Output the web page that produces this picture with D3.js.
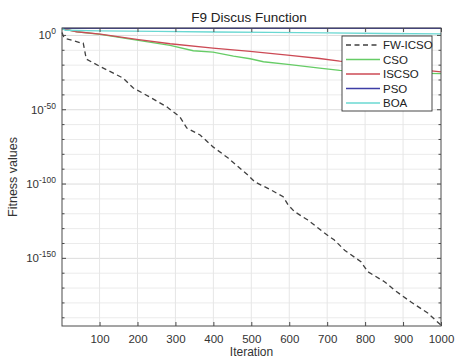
<!DOCTYPE html>
<html>
<head>
<meta charset="utf-8">
<script src="https://cdn.jsdelivr.net/npm/d3@7"></script>
<style>
  html, body { margin: 0; padding: 0; background: #fff; }
  svg { display: block; font-family: "Liberation Sans", Arial, Helvetica, sans-serif; }
</style>
</head>
<body>
<svg id="chart" width="456" height="360"></svg>
<script>
// Convergence curves for the F9 Discus benchmark (best fitness per iteration)
const seriesNames = ["FW-ICSO", "CSO", "ISCSO", "PSO", "BOA"];
const seriesColors = ["#404040", "#66cc66", "#cc4a55", "#3d3da6", "#6ad8d2"];

const fwIters = [1, 6, 12, 49, 57, 65, 102, 162, 189, 233, 278, 312, 330, 365, 399, 439, 491, 509, 526, 552, 584, 597, 614, 649, 693, 719, 746, 789, 807, 851, 877, 920, 965, 1000];
const fwValues = [1e2, 5e-2, 6e-3, 1.3e-5, 8e-6, 1.3e-16, 1e-21, 2e-29, 4e-36, 3e-42, 6e-49, 1.3e-55, 5e-63, 1e-67, 1e-75, 3e-83, 1e-94, 3e-99, 2e-101, 1e-104, 3e-109, 1e-114, 2.5e-119, 6e-125, 1e-133, 2e-138, 3e-145, 5e-153, 1e-159, 2e-166, 5e-172, 6e-180, 1.6e-187, 1e-195];

const csoIters = [1, 40, 102, 198, 286, 347, 399, 453, 497, 532, 602, 680, 733, 800, 860, 930, 1000];
const csoValues = [4e4, 3e2, 5, 8e-4, 2e-7, 5e-11, 6e-12, 1.2e-14, 2e-16, 2e-18, 2e-20, 1e-22, 3e-24, 5e-25, 1e-25, 5e-26, 2e-26];

const iscsoIters = [1, 40, 102, 198, 286, 399, 497, 602, 680, 733, 800, 860, 930, 1000];
const iscsoValues = [4e4, 3e2, 8, 2.5e-3, 2.5e-6, 3e-9, 2e-11, 4e-14, 3e-16, 6e-18, 3e-19, 1.5e-21, 2e-23, 3e-25];

const psoIters = [1, 250, 500, 750, 1000];
const psoValues = [6e4, 5e4, 5e4, 5e4, 5e4];

const boaIters = [1, 10, 100, 250, 400, 550, 700, 850, 1000];
const boaValues = [5e4, 3e3, 1e3, 6e2, 2e2, 1e2, 5e1, 2e1, 1.3e1];

const xTicks = [100, 200, 300, 400, 500, 600, 700, 800, 900, 1000];
const yTickExponents = [0, -50, -100, -150];
const yMinorExponents = d3.range(0, -200, -10);

const series = [
  { name: seriesNames[0], iters: fwIters, values: fwValues, color: seriesColors[0], dash: "5,3.5", width: 1.3 },
  { name: seriesNames[1], iters: csoIters, values: csoValues, color: seriesColors[1], dash: null, width: 1.3 },
  { name: seriesNames[2], iters: iscsoIters, values: iscsoValues, color: seriesColors[2], dash: null, width: 1.3 },
  { name: seriesNames[3], iters: psoIters, values: psoValues, color: seriesColors[3], dash: null, width: 1.3 },
  { name: seriesNames[4], iters: boaIters, values: boaValues, color: seriesColors[4], dash: null, width: 1.3 }
];

const svg = d3.select("#chart");
const plotL = 62, plotR = 441, plotT = 28, plotB = 326;

const x = d3.scaleLinear().domain([1, 1000]).range([plotL, plotR]);
const y = d3.scaleLog().domain([1e5, 3e-196]).range([plotT, plotB]);

const axisColor = "#4a4a4a";
const gridColor = "#e6e6e6";

// grid
const grid = svg.append("g");
grid.selectAll("line.hg").data(yMinorExponents).join("line")
  .attr("x1", plotL).attr("x2", plotR)
  .attr("y1", e => y(Math.pow(10, e))).attr("y2", e => y(Math.pow(10, e)))
  .attr("stroke", e => (e % 50 === 0) ? "#dcdcdc" : "#ebebeb").attr("stroke-width", 1);
grid.selectAll("line.vg").data(xTicks.slice(0, -1)).join("line")
  .attr("x1", d => x(d)).attr("x2", d => x(d))
  .attr("y1", plotT).attr("y2", plotB)
  .attr("stroke", gridColor).attr("stroke-width", 1);

// curves
const line = d3.line().x(d => x(d[0])).y(d => y(d[1]));
const curves = svg.append("g");
series.forEach(s => {
  curves.append("path")
    .datum(s.iters.map((it, i) => [it, s.values[i]]))
    .attr("d", line)
    .attr("fill", "none")
    .attr("stroke", s.color)
    .attr("stroke-width", s.width)
    .attr("stroke-dasharray", s.dash);
});

// box and axes
svg.append("rect").attr("x", plotL).attr("y", plotT)
  .attr("width", plotR - plotL).attr("height", plotB - plotT)
  .attr("fill", "none").attr("stroke", axisColor).attr("stroke-width", 1);

const xAxis = d3.axisBottom(x).tickValues(xTicks).tickFormat(d3.format("d")).tickSize(-4).tickPadding(9);
const gx = svg.append("g").attr("transform", `translate(0,${plotB})`).call(xAxis);
gx.select(".domain").remove();
gx.selectAll("line").attr("stroke", axisColor);
gx.selectAll("text").attr("fill", "#333").attr("font-size", 11.5)
  .attr("font-family", "Liberation Sans, Arial, sans-serif");

const xTop = d3.axisTop(x).tickValues(xTicks).tickSize(-4).tickFormat("");
const gxt = svg.append("g").attr("transform", `translate(0,${plotT})`).call(xTop);
gxt.select(".domain").remove();
gxt.selectAll("line").attr("stroke", axisColor);

// y tick marks (minor every 10 decades) on both sides
const ticksY = svg.append("g");
yMinorExponents.forEach(e => {
  const yy = y(Math.pow(10, e));
  const len = (e % 50 === 0) ? 4 : 2.5;
  ticksY.append("line").attr("x1", plotL).attr("x2", plotL + len).attr("y1", yy).attr("y2", yy).attr("stroke", axisColor);
  ticksY.append("line").attr("x1", plotR).attr("x2", plotR - len).attr("y1", yy).attr("y2", yy).attr("stroke", axisColor);
});

// y tick labels 10^n
yTickExponents.forEach(e => {
  const yy = y(Math.pow(10, e));
  const t = svg.append("text")
    .attr("x", 56).attr("y", yy + 4)
    .attr("text-anchor", "end")
    .attr("fill", "#333")
    .attr("font-size", 11.5);
  t.append("tspan").text("10");
  t.append("tspan").attr("dy", -5).attr("font-size", 8.5).text(String(e));
});

// title and axis labels
svg.append("text").attr("x", 249).attr("y", 22).attr("text-anchor", "middle")
  .attr("font-size", 13.5).attr("fill", "#222").text("F9 Discus Function");
svg.append("text").attr("x", (plotL + plotR) / 2).attr("y", 356).attr("text-anchor", "middle")
  .attr("font-size", 12).attr("fill", "#333").text("Iteration");
svg.append("text").attr("transform", `translate(17,${(plotT + plotB) / 2}) rotate(-90)`)
  .attr("text-anchor", "middle").attr("font-size", 12.5).attr("fill", "#333").text("Fitness values");

// legend
const lg = svg.append("g");
lg.append("rect").attr("x", 342).attr("y", 36).attr("width", 90).attr("height", 75)
  .attr("fill", "#fff").attr("stroke", "#333").attr("stroke-width", 0.9);
series.forEach((s, i) => {
  const ly = 45 + i * 14.5;
  lg.append("line").attr("x1", 346).attr("x2", 380).attr("y1", ly).attr("y2", ly)
    .attr("stroke", s.color).attr("stroke-width", s.width).attr("stroke-dasharray", s.dash);
  lg.append("text").attr("x", 383).attr("y", ly + 4).attr("font-size", 11.5)
    .attr("fill", "#222").text(s.name);
});
</script>
</body>
</html>
